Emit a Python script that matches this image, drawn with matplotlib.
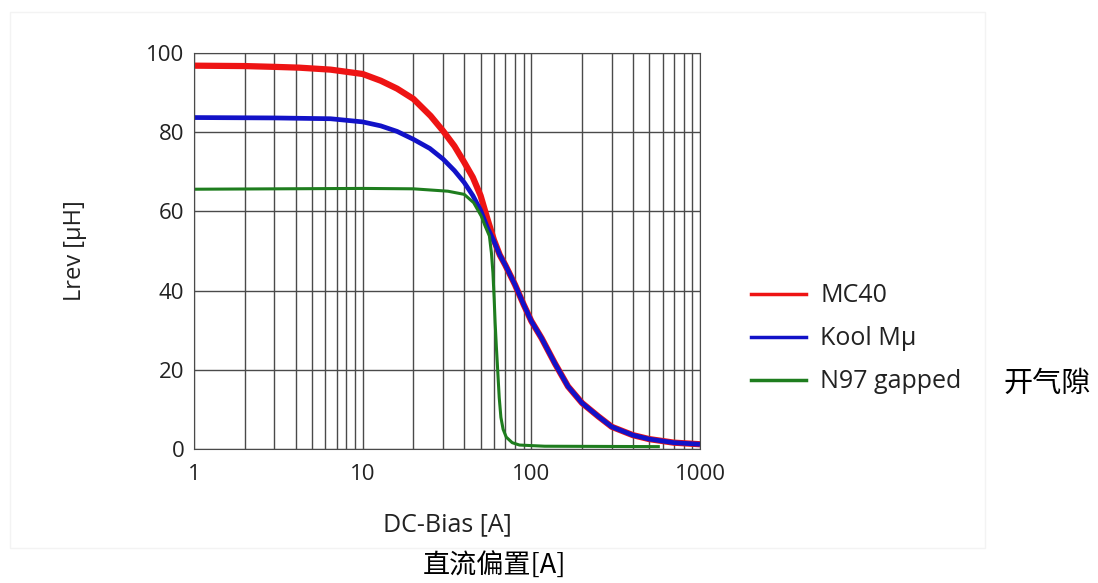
import matplotlib.pyplot as plt
from matplotlib.patches import Rectangle

plt.rcParams['font.family'] = ['Open Sans', 'DejaVu Sans']

# DC bias current [A] and inductance [uH]
mc40_i = [1, 2, 3, 4.2, 6.45, 10, 12.8, 16, 20, 25.3, 30, 35, 40, 45, 50, 55, 60, 65, 70, 80,
          90, 100, 115, 138, 165, 200, 250, 300, 400, 500, 700, 1000]
mc40_l = [96.8, 96.7, 96.5, 96.3, 95.8, 94.7, 93.0, 91.0, 88.4, 84.1, 80.3, 76.5, 72.4, 68.6, 64.0, 58.0,
          52.8, 49.0, 46.5, 41.5, 36.5, 32.3, 28.0, 21.6, 15.8, 11.6, 8.2, 5.6, 3.5, 2.5, 1.6, 1.2]

kool_i = [1, 3, 6.45, 10, 12.8, 16, 20, 25, 30, 35, 40, 45, 50, 55, 60, 65, 70, 80,
          90, 100, 115, 138, 165, 200, 250, 300, 400, 500, 700, 1000]
kool_l = [83.7, 83.6, 83.4, 82.6, 81.6, 80.2, 78.2, 75.9, 73.2, 70.3, 67.3, 64.0, 60.3, 55.8,
          52.5, 49.0, 46.5, 41.5, 36.5, 32.3, 28.0, 21.6, 15.8, 11.6, 8.2, 5.6, 3.5, 2.5, 1.6, 1.2]

n97_i = [1, 10, 20, 32, 40, 45.5, 50.5, 53, 56.4, 58, 59.2, 60.2, 61, 62, 63, 64.5, 66, 68, 71, 77,
         85, 120, 578]
n97_l = [65.6, 65.8, 65.7, 65.1, 64.3, 62.2, 58.8, 56.5, 53.8, 49.5, 44.5, 38.0, 31.9, 26.0, 20.8,
         13.0, 8.0, 5.0, 3.0, 1.6, 1.0, 0.7, 0.6]

labels = ['MC40', 'Kool Mµ', 'N97 gapped']
colors = ['#ee1414', '#1212c8', '#1e7d1e']

fig = plt.figure(figsize=(10.98, 5.83), dpi=100)

# faint frame of the pasted picture
fig.patches.append(Rectangle((10 / 1098, 1 - 548 / 583), 975 / 1098, 536 / 583,
                             transform=fig.transFigure, fill=False,
                             edgecolor='#f3f3f3', linewidth=1))

ax = fig.add_axes([194 / 1098, 1 - 449 / 583, 506 / 1098, 396 / 583])

ax.plot(mc40_i, mc40_l, color=colors[0], lw=4.5, solid_capstyle='butt', solid_joinstyle='round')
ax.plot(kool_i, kool_l, color=colors[1], lw=3.4, solid_capstyle='butt', solid_joinstyle='round')
ax.plot(n97_i, n97_l, color=colors[2], lw=2.2, solid_capstyle='butt', solid_joinstyle='round')

ax.set_xscale('log')
ax.set_xlim(1, 1000)
ax.set_ylim(0, 100)
ax.set_yticks([0, 20, 40, 60, 80, 100])
ax.set_xticks([1, 10, 100, 1000])
ax.set_xticklabels(['1', '10', '100', '1000'])
ax.grid(True, which='both', axis='x', color='#4a4a4a', lw=1)
ax.grid(True, which='major', axis='y', color='#4a4a4a', lw=1)
ax.tick_params(which='both', length=0, labelsize=16, colors='#222222')
ax.tick_params(axis='x', pad=11)
ax.tick_params(axis='y', pad=7)
for s in ax.spines.values():
    s.set_color('#4a4a4a')

fig.text(75 / 1098, 1 - 251 / 583, 'Lrev [µH]', rotation=90, ha='center', va='center',
         fontsize=17, color='#222222')
fig.text(447 / 1098, 1 - 525 / 583, 'DC-Bias [A]', ha='center', va='center',
         fontsize=18, color='#222222')
fig.text(495 / 1098, 1 - 566 / 583, '直流偏置[A]', ha='center', va='center',
         fontsize=19.5, family=['Noto Sans CJK SC', 'DejaVu Sans'], color='black')
fig.text(1047 / 1098, 1 - 384 / 583, '开气隙', ha='center', va='center',
         fontsize=21, family=['Noto Sans CJK SC', 'DejaVu Sans'], color='black')

# legend with thin sample lines
handles = [plt.Line2D([], [], color=c, lw=2.5) for c in colors]
fig.legend(handles, labels, loc='upper left', bbox_to_anchor=(728 / 1098, 1 - 261 / 583),
           frameon=False, fontsize=18, handlelength=2.2, handletextpad=0.6,
           labelspacing=0.72, labelcolor='#222222')

plt.savefig('out.png', dpi=100)
